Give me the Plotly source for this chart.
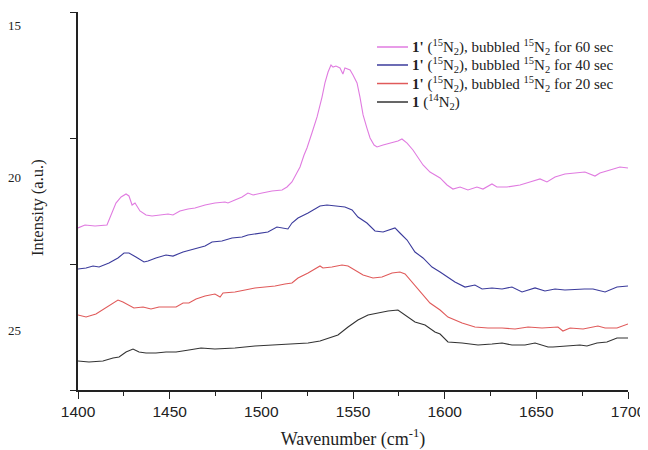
import plotly.graph_objects as go

# ---- data (wavenumber in cm^-1, intensity in arbitrary units with offsets) ----
wn_60 = [1400.0, 1403.8, 1409.3, 1415.8, 1420.7, 1423.5, 1426.2, 1427.8, 1429.5, 1431.1,
         1433.8, 1437.1, 1440.4, 1444.7, 1449.1, 1451.8, 1455.6, 1460.0, 1463.8, 1469.3,
         1474.7, 1480.2, 1481.8, 1485.6, 1489.5, 1492.7, 1495.5, 1500.4, 1505.8, 1511.3,
         1514.0, 1516.7, 1519.5, 1521.1, 1523.3, 1524.9, 1527.6, 1530.4, 1533.1, 1534.7,
         1536.4, 1538.0, 1539.1, 1540.7, 1542.9, 1544.5, 1545.6, 1547.3, 1548.4, 1550.0,
         1552.2, 1553.8, 1555.5, 1557.6, 1559.3, 1561.5, 1563.1, 1566.4, 1570.2, 1574.5,
         1576.7, 1579.5, 1582.7, 1585.5, 1588.2, 1592.0, 1597.5, 1601.3, 1604.5, 1608.4,
         1612.7, 1617.6, 1620.9, 1625.8, 1628.5, 1634.0, 1641.1, 1646.5, 1652.0, 1655.8,
         1660.2, 1665.6, 1671.1, 1676.5, 1682.0, 1684.7, 1690.2, 1695.6, 1700.0]
int_60 = [1.286, 1.310, 1.302, 1.310, 1.484, 1.532, 1.556, 1.540, 1.468, 1.484,
          1.421, 1.389, 1.381, 1.389, 1.397, 1.389, 1.421, 1.437, 1.444, 1.468,
          1.484, 1.492, 1.484, 1.508, 1.532, 1.563, 1.548, 1.563, 1.579, 1.587,
          1.611, 1.651, 1.722, 1.770, 1.865, 1.921, 2.040, 2.167, 2.325, 2.437,
          2.524, 2.579, 2.563, 2.571, 2.556, 2.508, 2.556, 2.548, 2.540, 2.500,
          2.437, 2.325, 2.183, 2.079, 2.000, 1.944, 1.929, 1.944, 1.960, 1.976,
          1.992, 1.960, 1.905, 1.841, 1.786, 1.730, 1.683, 1.627, 1.595, 1.611,
          1.587, 1.611, 1.595, 1.635, 1.611, 1.611, 1.627, 1.651, 1.675, 1.651,
          1.690, 1.714, 1.722, 1.730, 1.698, 1.722, 1.746, 1.770, 1.762]

wn_40 = [1400.0, 1404.4, 1408.2, 1411.5, 1416.9, 1421.8, 1425.1, 1427.8, 1431.6, 1436.0,
         1438.2, 1442.5, 1448.0, 1451.8, 1457.3, 1462.7, 1469.3, 1473.1, 1478.5, 1484.0,
         1489.5, 1492.7, 1500.4, 1503.6, 1508.5, 1511.3, 1514.5, 1516.7, 1520.0, 1525.5,
         1532.0, 1535.8, 1540.2, 1545.6, 1549.5, 1552.7, 1557.6, 1562.0, 1566.4, 1570.2,
         1572.9, 1575.6, 1579.5, 1583.8, 1588.2, 1593.1, 1597.5, 1605.6, 1611.1, 1616.5,
         1620.4, 1625.8, 1631.3, 1636.7, 1642.2, 1649.3, 1654.7, 1660.2, 1665.6, 1676.2,
         1680.9, 1687.5, 1694.0, 1700.0]
int_40 = [0.960, 0.968, 0.984, 0.976, 1.008, 1.048, 1.087, 1.087, 1.056, 1.016,
          1.024, 1.048, 1.071, 1.063, 1.095, 1.119, 1.143, 1.175, 1.183, 1.206,
          1.214, 1.230, 1.246, 1.254, 1.294, 1.286, 1.278, 1.325, 1.365, 1.405,
          1.460, 1.468, 1.460, 1.452, 1.429, 1.373, 1.325, 1.262, 1.254, 1.270,
          1.286, 1.246, 1.190, 1.095, 1.048, 0.976, 0.937, 0.857, 0.817, 0.833,
          0.802, 0.810, 0.802, 0.817, 0.778, 0.810, 0.786, 0.802, 0.794, 0.802,
          0.802, 0.778, 0.817, 0.825]

wn_20 = [1400.0, 1404.4, 1409.8, 1415.3, 1419.1, 1421.8, 1424.5, 1427.3, 1430.5, 1435.5,
         1439.8, 1444.2, 1449.1, 1453.5, 1457.3, 1460.5, 1464.4, 1469.3, 1474.7, 1477.5,
         1479.1, 1485.6, 1491.1, 1496.5, 1502.0, 1507.5, 1512.9, 1516.7, 1520.0, 1525.5,
         1532.0, 1533.6, 1538.5, 1544.0, 1547.3, 1551.1, 1555.5, 1560.9, 1565.8, 1571.3,
         1575.6, 1578.4, 1582.7, 1587.6, 1592.0, 1597.5, 1601.8, 1609.5, 1616.5, 1623.6,
         1631.3, 1638.4, 1645.5, 1653.1, 1661.8, 1664.5, 1668.4, 1675.5, 1683.6, 1687.5,
         1694.0, 1700.0]
int_20 = [0.595, 0.579, 0.603, 0.651, 0.690, 0.714, 0.698, 0.675, 0.651, 0.659,
          0.643, 0.659, 0.659, 0.659, 0.690, 0.690, 0.722, 0.746, 0.762, 0.738,
          0.770, 0.778, 0.794, 0.810, 0.817, 0.825, 0.841, 0.849, 0.889, 0.929,
          0.984, 0.968, 0.976, 0.992, 0.984, 0.952, 0.913, 0.889, 0.897, 0.929,
          0.937, 0.921, 0.849, 0.770, 0.690, 0.635, 0.579, 0.532, 0.500, 0.492,
          0.492, 0.484, 0.500, 0.492, 0.500, 0.468, 0.492, 0.484, 0.508, 0.492,
          0.492, 0.524]

wn_14 = [1400.0, 1406.0, 1413.6, 1419.1, 1422.4, 1426.2, 1430.0, 1433.3, 1437.1, 1442.5,
         1448.0, 1453.5, 1460.5, 1467.1, 1474.7, 1485.6, 1496.5, 1507.5, 1518.4, 1525.5,
         1532.0, 1536.4, 1541.8, 1547.3, 1552.7, 1558.2, 1563.6, 1569.1, 1574.5, 1578.4,
         1583.8, 1589.3, 1594.7, 1597.5, 1601.8, 1609.5, 1618.2, 1625.8, 1631.3, 1636.7,
         1643.8, 1649.3, 1656.4, 1659.1, 1666.7, 1673.8, 1677.6, 1683.1, 1688.5, 1694.0,
         1700.0]
int_14 = [0.230, 0.222, 0.230, 0.254, 0.262, 0.302, 0.325, 0.302, 0.294, 0.294,
          0.302, 0.302, 0.317, 0.333, 0.325, 0.333, 0.349, 0.357, 0.365, 0.373,
          0.389, 0.413, 0.437, 0.500, 0.556, 0.595, 0.611, 0.627, 0.635, 0.595,
          0.540, 0.516, 0.460, 0.444, 0.381, 0.373, 0.357, 0.365, 0.373, 0.357,
          0.357, 0.373, 0.341, 0.341, 0.349, 0.357, 0.349, 0.373, 0.381, 0.413,
          0.413]

series_names = [
    "<b>1'</b> (<sup>15</sup>N<sub>2</sub>), bubbled <sup>15</sup>N<sub>2</sub> for 60 sec",
    "<b>1'</b> (<sup>15</sup>N<sub>2</sub>), bubbled <sup>15</sup>N<sub>2</sub> for 40 sec",
    "<b>1'</b> (<sup>15</sup>N<sub>2</sub>), bubbled <sup>15</sup>N<sub>2</sub> for 20 sec",
    "<b>1</b> (<sup>14</sup>N<sub>2</sub>)",
]
series_colors = ["#e07be0", "#3b3b9c", "#e05a5a", "#333333"]

y_tick_labels = ["15", "20", "25"]
y_tick_vals = [15, 20, 25]
x_tick_vals = [1400, 1450, 1500, 1550, 1600, 1650, 1700]

SERIF = "Liberation Serif, Times New Roman, serif"
SANS = "Liberation Sans, Arial, sans-serif"

fig = go.Figure()
for xs, ys, name, col in zip([wn_60, wn_40, wn_20, wn_14],
                             [int_60, int_40, int_20, int_14],
                             series_names, series_colors):
    fig.add_trace(go.Scatter(x=xs, y=ys, mode="lines", name=name,
                             line=dict(color=col, width=1.1)))

# invisible trace to activate the label axis
fig.add_trace(go.Scatter(x=[1400], y=[20], yaxis="y2", mode="markers",
                         marker=dict(opacity=0), showlegend=False, hoverinfo="skip"))

# compact legend (sample line + label), rows spaced like the reference
leg_x0, leg_x1, leg_tx = 0.5436, 0.600, 0.6036
leg_rows = [0.9074, 0.8598, 0.8108, 0.7619]
for name, col, yy in zip(series_names, series_colors, leg_rows):
    fig.add_shape(type="line", xref="x domain", yref="y domain",
                  x0=leg_x0, x1=leg_x1, y0=yy, y1=yy,
                  line=dict(color=col, width=1.5))
    fig.add_annotation(xref="x domain", yref="y domain", x=leg_tx, y=yy,
                       xanchor="left", yanchor="middle", showarrow=False,
                       text=name, font=dict(family=SERIF, size=15, color="#222"))

# y-axis title, placed slightly below the axis centre as in the reference
fig.add_annotation(xref="x domain", yref="y domain", x=-0.0727, y=0.4815,
                   xanchor="center", yanchor="middle", showarrow=False, textangle=-90,
                   text="Intensity (a.u.)", font=dict(family=SERIF, size=16.5, color="#222"))

# the page body adds an 8px offset, so the figure is 8px smaller and shifted
fig.update_layout(
    template="none",
    width=640, height=442,
    margin=dict(l=70, r=20, t=4, b=60, autoexpand=False),
    paper_bgcolor="white", plot_bgcolor="white",
    showlegend=False,
    xaxis=dict(range=[1400, 1700], tickvals=x_tick_vals, ticks="outside", ticklen=7,
               tickwidth=1.2, tickcolor="#222", showline=True, linecolor="#222", linewidth=1.5,
               showgrid=False, zeroline=False, automargin=False,
               minor=dict(dtick=25, ticks="outside", ticklen=4, tickcolor="#222", showgrid=False),
               tickfont=dict(family=SANS, size=15.5, color="#222"),
               title=dict(text="Wavenumber (cm<sup>-1</sup>)", standoff=20,
                          font=dict(family=SERIF, size=18, color="#222"))),
    yaxis=dict(range=[0, 3], tickvals=[0, 1, 2, 3], ticks="outside", ticklen=6,
               tickwidth=1.2, tickcolor="#222", showticklabels=False, automargin=False,
               showline=True, linecolor="#222", linewidth=1.5, showgrid=False, zeroline=False),
    yaxis2=dict(overlaying="y", side="left", range=[26.967, 14.574], automargin=False,
                tickvals=y_tick_vals, ticktext=y_tick_labels, ticks="",
                showline=False, showgrid=False, zeroline=False, ticklabelstandoff=56,
                tickfont=dict(family=SERIF, size=13, color="#222")),
)

fig.write_html("out.html")
